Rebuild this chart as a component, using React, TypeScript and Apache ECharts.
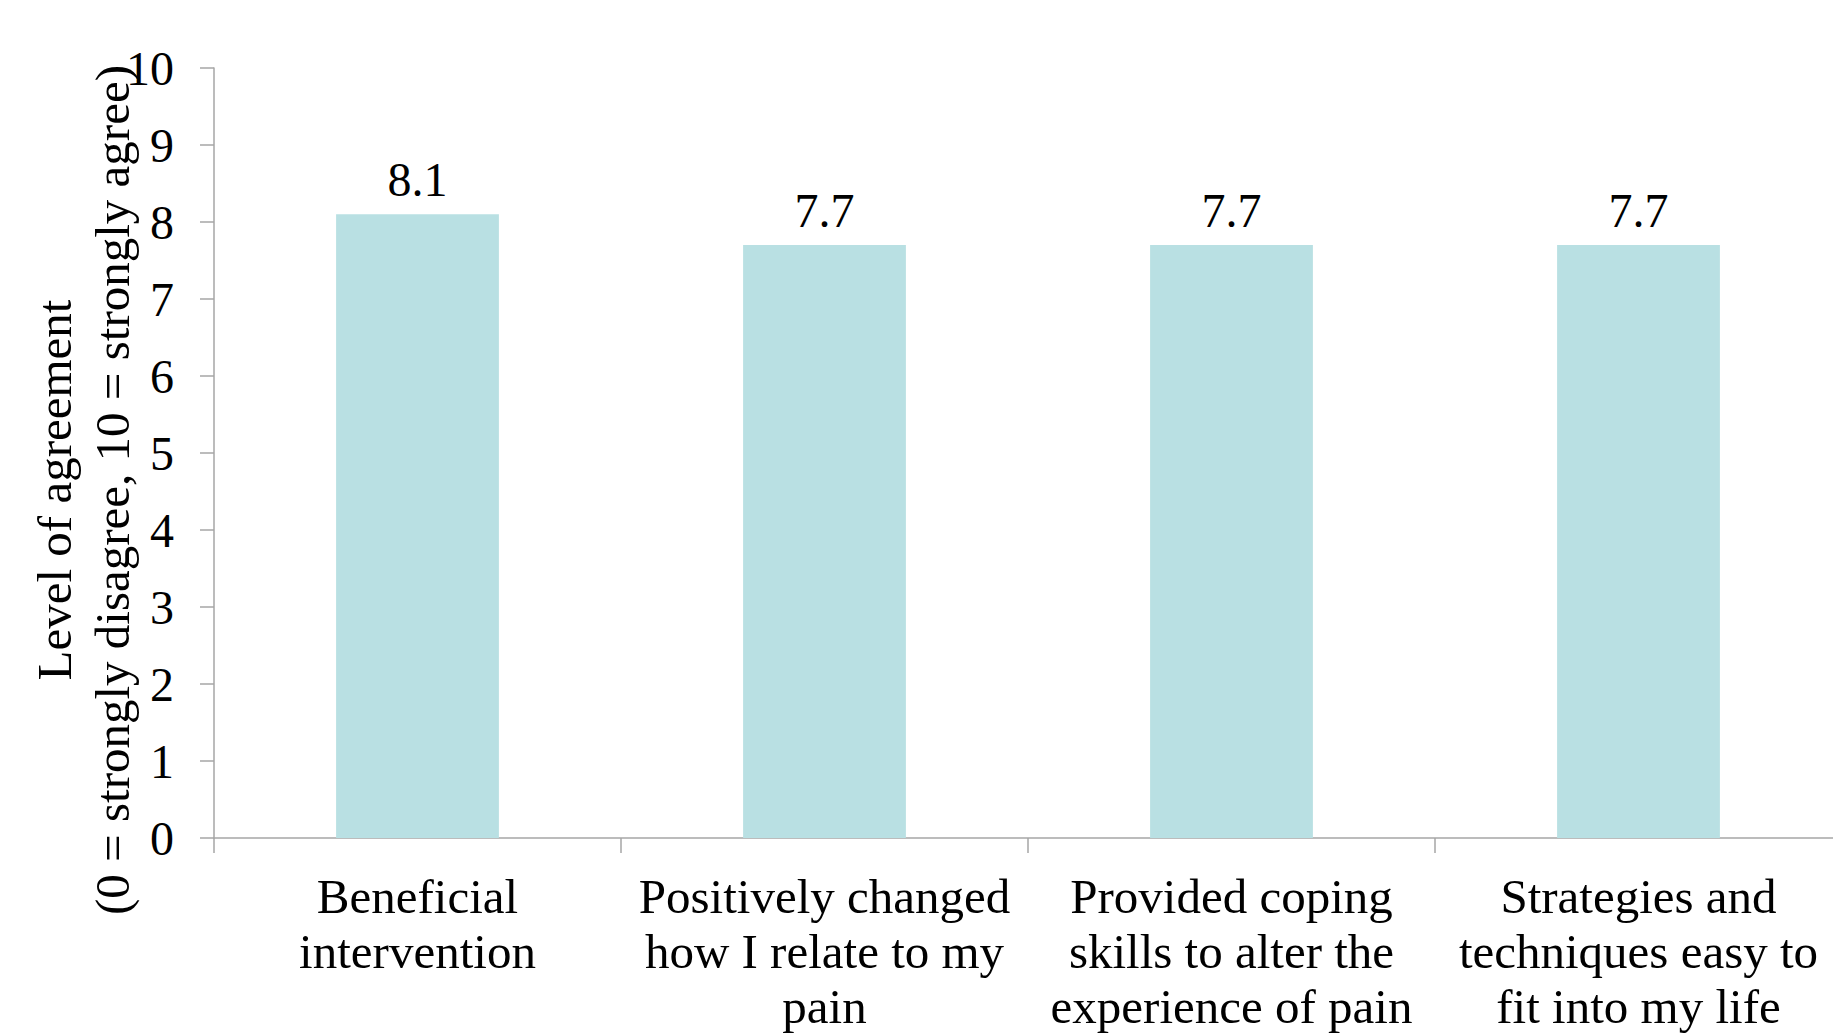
import React, { useEffect, useRef } from "react";
import * as echarts from "echarts";

const categories = [
  "Beneficial\nintervention",
  "Positively changed\nhow I relate to my\npain",
  "Provided coping\nskills to alter the\nexperience of pain",
  "Strategies and\ntechniques easy to\nfit into my life",
];
const values = [8.1, 7.7, 7.7, 7.7];
const yTitle = "Level of agreement\n(0 = strongly disagree, 10 = strongly agree)";

const FONT = "'Liberation Serif', 'Times New Roman', serif";

export default function App() {
  const ref = useRef<HTMLDivElement>(null);
  useEffect(() => {
    if (!ref.current) return;
    const chart = echarts.init(ref.current, undefined, { renderer: "svg" });
    chart.setOption({
      animation: false,
      backgroundColor: "#ffffff",
      textStyle: { fontFamily: FONT, color: "#000" },
      grid: { left: 214, right: 8, top: 68, bottom: 185, containLabel: false },
      xAxis: {
        type: "category",
        data: categories,
        axisLine: { lineStyle: { color: "#a6a6a6", width: 1.5 } },
        axisTick: { show: true, length: 15, lineStyle: { color: "#a6a6a6", width: 1.5 } },
        axisLabel: {
          interval: 0,
          margin: 31,
          fontFamily: FONT,
          fontSize: 49,
          lineHeight: 55,
          color: "#000",
        },
      },
      yAxis: {
        type: "value",
        min: 0,
        max: 10,
        interval: 1,
        splitLine: { show: false },
        axisLine: { show: true, lineStyle: { color: "#a6a6a6", width: 1.5 } },
        axisTick: { show: true, length: 14, lineStyle: { color: "#a6a6a6", width: 1.5 } },
        axisLabel: {
          margin: 40,
          fontFamily: FONT,
          fontSize: 48,
          color: "#000",
        },
      },
      series: [
        {
          type: "bar",
          data: values,
          barWidth: "40%",
          itemStyle: { color: "#B9E0E3" },
          label: {
            show: true,
            position: "top",
            distance: 11,
            fontFamily: FONT,
            fontSize: 48,
            color: "#000",
            formatter: (p: any) => Number(p.value).toFixed(1),
          },
        },
      ],
      graphic: [
        {
          type: "text",
          x: 83,
          y: 490,
          rotation: Math.PI / 2,
          style: {
            text: yTitle,
            font: `49px ${FONT}`,
            fill: "#000",
            align: "center",
            verticalAlign: "middle",
            lineHeight: 58,
          },
        },
      ],
    });
    return () => chart.dispose();
  }, []);
  return (
    <div style={{ position: "absolute", left: 0, top: 0, width: 1833, height: 1034, overflow: "hidden" }}>
      <div ref={ref} style={{ width: 1850, height: 1034 }} />
    </div>
  );
}
